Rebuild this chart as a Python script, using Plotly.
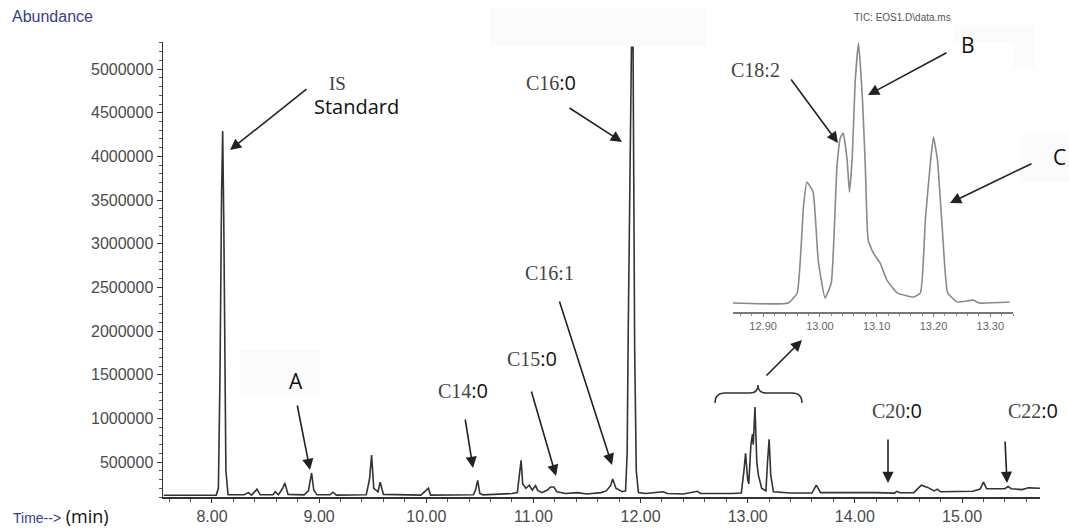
import plotly.graph_objects as go

# ---------------- data ----------------
time_min = [7.55, 7.70, 7.85, 8.04,
            8.06, 8.075, 8.09, 8.10, 8.11, 8.12, 8.13, 8.15,
            8.30, 8.34, 8.37, 8.42, 8.45, 8.57, 8.59, 8.62, 8.66, 8.68, 8.71,
            8.86, 8.90, 8.93, 8.95, 8.98, 9.10, 9.13, 9.16,
            9.44, 9.47, 9.49, 9.51, 9.55, 9.57, 9.60,
            9.95, 10.02, 10.04, 10.44, 10.46, 10.48, 10.50, 10.53,
            10.70, 10.80, 10.85, 10.87, 10.885, 10.90, 10.93, 10.96, 10.99, 11.02, 11.04, 11.08,
            11.13, 11.16, 11.19, 11.22, 11.30, 11.41, 11.50, 11.63, 11.68, 11.72, 11.74, 11.77, 11.83,
            11.86, 11.875, 11.885, 11.90, 11.915, 11.93, 11.945, 11.96, 11.98, 12.05,
            12.21, 12.25, 12.40, 12.53, 12.56, 12.85,
            12.94, 12.965, 12.98, 13.00, 13.01, 13.03, 13.045, 13.052, 13.068, 13.085, 13.10, 13.13,
            13.17, 13.185, 13.20, 13.215, 13.24, 13.40,
            13.60, 13.64, 13.68, 14.20, 14.37, 14.39, 14.42,
            14.55, 14.62, 14.68, 14.74, 14.77, 14.80,
            15.10, 15.17, 15.20, 15.23, 15.40, 15.43, 15.46, 15.56, 15.62, 15.728]
abundance = [120000, 122000, 120000, 122000,
             200000, 1500000, 3600000, 4290000, 3300000, 1400000, 400000, 125000,
             125000, 150000, 122000, 190000, 125000, 125000, 160000, 125000, 200000, 260000, 130000,
             125000, 170000, 375000, 180000, 125000, 125000, 155000, 122000,
             125000, 300000, 580000, 200000, 160000, 270000, 130000,
             122000, 200000, 122000, 125000, 180000, 290000, 140000, 125000,
             130000, 140000, 150000, 330000, 520000, 250000, 200000, 235000, 180000, 230000, 175000, 150000,
             180000, 215000, 215000, 160000, 140000, 150000, 135000, 150000, 170000, 230000, 305000, 200000, 160000,
             170000, 600000, 2000000, 3700000, 5250000, 5250000, 1800000, 400000, 150000, 140000,
             160000, 140000, 135000, 165000, 140000, 140000,
             145000, 400000, 600000, 300000, 250000, 700000, 820000, 700000, 1130000, 500000, 350000, 200000,
             170000, 500000, 760000, 350000, 160000, 145000,
             145000, 235000, 150000, 150000, 145000, 165000, 148000,
             150000, 235000, 210000, 170000, 190000, 160000,
             165000, 190000, 270000, 195000, 195000, 220000, 195000, 185000, 205000, 200000]

inset_time = [12.847, 12.944, 12.96, 12.971, 12.977, 12.988, 12.997, 13.009, 13.02, 13.03,
              13.036, 13.041, 13.048, 13.052, 13.057, 13.062, 13.068, 13.075, 13.08, 13.085,
              13.094, 13.106, 13.118, 13.136, 13.165, 13.177, 13.186, 13.195, 13.20, 13.207,
              13.216, 13.225, 13.242, 13.27, 13.28, 13.334]
inset_abundance = [37800, 37800, 80000, 441000, 546000, 504000, 218000, 59000, 122000, 609000,
                   731000, 752000, 638000, 504000, 651000, 962000, 1130000, 890000, 609000, 302000,
                   248000, 206000, 134000, 80000, 63000, 80000, 399000, 638000, 735000, 638000,
                   332000, 80000, 42000, 50000, 37800, 42000]

y_tick_vals = [500000, 1000000, 1500000, 2000000, 2500000, 3000000, 3500000, 4000000, 4500000, 5000000]
x_tick_vals = [8, 9, 10, 11, 12, 13, 14, 15]
inset_tick_vals = [12.90, 13.00, 13.10, 13.20, 13.30]

# ---------------- layout helpers (pixel -> paper) ----------------
W, H = 1069, 528
ML, MR, MT, MB = 163, 29, 42, 31
PW, PH = W - ML - MR, H - MT - MB


def px(x):
    return (x - ML) / PW


def py(y):
    return (H - MB - y) / PH


SERIF = "Liberation Serif, Times New Roman, serif"
SANS = "Open Sans, Liberation Sans, sans-serif"
TICKFONT = dict(family="Liberation Sans, Arial, sans-serif", size=16, color="#4a4a4a")

fig = go.Figure()
fig.add_trace(go.Scatter(x=time_min, y=abundance, mode="lines",
                         line=dict(color="#333333", width=1.6), hoverinfo="skip",
                         showlegend=False))
fig.add_trace(go.Scatter(x=inset_time, y=inset_abundance, mode="lines",
                         line=dict(color="#8a8a8a", width=1.6, shape="spline", smoothing=0.4),
                         xaxis="x2", yaxis="y2", hoverinfo="skip", showlegend=False))

fig.update_layout(
    width=W, height=H,
    margin=dict(l=ML, r=MR, t=MT, b=MB, autoexpand=False),
    plot_bgcolor="white", paper_bgcolor="white",
    xaxis=dict(range=[7.543, 15.728], tickvals=x_tick_vals, tickformat=".2f", automargin=False,
               showgrid=False, zeroline=False, showline=True, linecolor="#333333", linewidth=1.5,
               ticks="outside", ticklen=4, tickcolor="#333333", tickfont=TICKFONT,
               minor=dict(dtick=0.2, tick0=0, ticks="outside", ticklen=3, tickcolor="#555555"),
               ticklabelstandoff=0),
    yaxis=dict(range=[100000, 5310000], tickvals=y_tick_vals, tickformat="d", automargin=False,
               showgrid=False, zeroline=False, showline=True, linecolor="#333333", linewidth=1.5,
               ticks="outside", ticklen=5, tickcolor="#333333", tickfont=TICKFONT,
               minor=dict(dtick=100000, tick0=0, ticks="outside", ticklen=3, tickcolor="#555555")),
    xaxis2=dict(domain=[px(733), px(1013)], anchor="y2", range=[12.847, 13.34], automargin=False,
                tickvals=inset_tick_vals, tickformat=".2f", showgrid=False, zeroline=False,
                showline=True, linecolor="#777777", linewidth=1.5, ticks="outside", ticklen=3,
                tickcolor="#777777",
                tickfont=dict(family="Liberation Sans, Arial, sans-serif", size=11, color="#666666"),
                minor=dict(dtick=0.02, tick0=12.9, ticks="outside", ticklen=2, tickcolor="#888888")),
    yaxis2=dict(domain=[py(312), 1.0], anchor="x2", range=[0, 1134000], visible=False,
                automargin=False),
)

annotations = []


def text(x, y, s, size=20, family=SANS, color="#111111", xanchor="center"):
    annotations.append(dict(x=px(x), y=py(y), xref="paper", yref="paper", text=s,
                            showarrow=False, xanchor=xanchor, yanchor="middle",
                            font=dict(family=family, size=size, color=color)))


def arrow(x0, y0, x1, y1):
    annotations.append(dict(x=px(x1), y=py(y1), xref="paper", yref="paper", text="",
                            showarrow=True, ax=x0 - x1, ay=y0 - y1, arrowhead=2,
                            arrowsize=1.4, arrowwidth=1.6, arrowcolor="#222222", standoff=0))


def label(code, tail, size=20):
    return (f"<span style='font-family:{SERIF};color:#444444'>{code}</span>{tail}")


# axis titles
text(10, 17, "Abundance", size=16, family="Liberation Sans, Arial, sans-serif",
     color="#3b3b8f", xanchor="left")
annotations.append(dict(x=px(12), y=py(516), xref="paper", yref="paper",
                        text="<span style='font-family:Liberation Sans, Arial;font-size:14px;color:#3b3b8f'>Time--&gt;</span> (min)",
                        showarrow=False, xanchor="left", yanchor="middle", borderpad=0,
                        font=dict(family=SANS, size=18, color="#111111")))
text(902, 18, "TIC: EOS1.D\\data.ms", size=10, family="Liberation Sans, Arial, sans-serif",
     color="#555555")

# peak labels
text(337, 83, "IS", size=19, family=SERIF, color="#444444")
text(356, 106, "Standard", size=20)
arrow(308, 88, 230, 150)
text(296, 381, "A", size=21)
arrow(297, 404, 310, 470)
text(463, 390, label("C14", ":0"))
arrow(465, 418, 473, 468)
text(532, 358, label("C15", ":0"))
arrow(531, 390, 556, 476)
text(549, 273, label("C16:1", ""))
arrow(559, 300, 612, 465)
text(551, 82, label("C16", ":0"))
arrow(568, 107, 622, 142)
text(755, 70, label("C18:2", ""))
arrow(790, 78, 838, 143)
text(968, 45, "B", size=21)
arrow(948, 52, 868, 95)
text(1059, 157, "C", size=21)
arrow(1033, 163, 950, 203)
arrow(765, 377, 802, 340)
text(897, 410, label("C20", ":0"))
arrow(888, 438, 888, 483)
text(1033, 410, label("C22", ":0"))
arrow(1005, 440, 1007, 483)

fig.update_layout(annotations=annotations)

# brace over the C18 cluster
pts = [(715, 403), (715, 393), (725, 393), (750, 393), (758, 393), (758, 385),
       (758, 393), (766, 393), (792, 393), (802, 393), (802, 403)]
P = [(px(a), py(b)) for a, b in pts]
path = (f"M {P[0][0]},{P[0][1]} Q {P[1][0]},{P[1][1]} {P[2][0]},{P[2][1]} "
        f"L {P[3][0]},{P[3][1]} Q {P[4][0]},{P[4][1]} {P[5][0]},{P[5][1]} "
        f"Q {P[6][0]},{P[6][1]} {P[7][0]},{P[7][1]} L {P[8][0]},{P[8][1]} "
        f"Q {P[9][0]},{P[9][1]} {P[10][0]},{P[10][1]}")
shapes = [dict(type="path", path=path, xref="paper", yref="paper",
               line=dict(color="#333333", width=1.5))]
# faint background patches from the original figure
for (x0, y0, x1, y1) in [(490, 8, 706, 46), (240, 350, 320, 395), (955, 25, 1035, 68),
                         (1020, 135, 1069, 182)]:
    shapes.append(dict(type="rect", xref="paper", yref="paper", x0=px(x0), x1=px(x1),
                       y0=py(y1), y1=py(y0), fillcolor="#fbfbfb", line=dict(width=0),
                       layer="below"))
fig.update_layout(shapes=shapes)

fig.write_html("out.html", config={"displayModeBar": False, "staticPlot": True},
               post_script="document.body.style.margin='0px';document.body.style.overflow='hidden';")
